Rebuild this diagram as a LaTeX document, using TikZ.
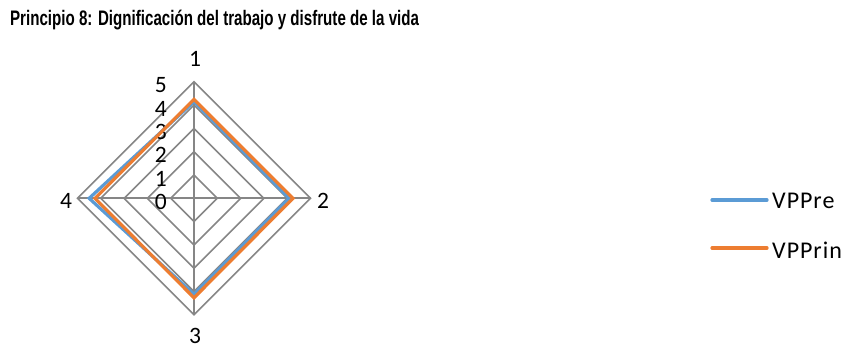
\documentclass[tikz,border=0pt]{standalone}
\usepackage{fontspec}
\setmainfont{Carlito}
\newfontfamily\titlefont{Liberation Sans}
\newfontfamily\legfont[LetterSpace=4]{Carlito}
\usetikzlibrary{positioning,calc}
\definecolor{gridgray}{RGB}{134,134,134}
\definecolor{preblue}{RGB}{91,155,213}
\definecolor{prinorange}{RGB}{237,125,49}

\begin{document}
\begin{tikzpicture}[x=1pt,y=1pt,
    ring/.style={draw=gridgray, line width=1.6pt},
    serie/.style={line width=3.2pt, line join=miter},
    lbl/.style={font=\fontsize{23.5}{23.5}\selectfont, inner sep=0pt},
    leg/.style={font=\legfont\fontsize{24}{24}\selectfont, inner sep=0pt, anchor=west}]
    \useasboundingbox (0,0) rectangle (846,347);

    % Title
    \node[anchor=west, inner sep=0pt, xscale=0.72,
          font=\titlefont\bfseries\fontsize{21}{21}\selectfont] (title) at (10,327)
          {Principio 8: Dignificación del trabajo y disfrute de la vida};

    % Centre and axes
    \coordinate (o) at (194,148.7);
    \coordinate (a1) at ($(o)+(90:116.5)$);
    \coordinate (a2) at ($(o)+(0:116.5)$);
    \coordinate (a3) at ($(o)+(270:116.5)$);
    \coordinate (a4) at ($(o)+(180:116.5)$);

    % Rings
    \foreach \k in {1,...,5}{
        \pgfmathsetmacro{\rr}{23.3*\k}
        \draw[ring] ($(o)+(90:\rr)$) -- ($(o)+(0:\rr)$) -- ($(o)+(270:\rr)$) -- ($(o)+(180:\rr)$) -- cycle;
    }
    \draw[ring] (o) -- (a1);
    \draw[ring] (o) -- (a2);
    \draw[ring] (o) -- (a3);
    \draw[ring] (o) -- (a4);

    % Scale
    \foreach \k in {0,...,5}{
        \node[lbl, anchor=east] (t\k) at ($(o)+(-27,23.3*\k-3.5)$) {\k};
    }

    % Axis labels
    \node[lbl] (l1) at ($(o)+(1,139)$) {1};
    \node[lbl] (l2) at ($(o)+(129,-2.5)$) {2};
    \node[lbl] (l3) at ($(o)+(1,-137.5)$) {3};
    \node[lbl] (l4) at ($(o)+(-128,-2.5)$) {4};

    % VPPre
    \coordinate (p1) at ($(o)+(90:23.3*4.15)$);
    \coordinate (p2) at ($(o)+(0:23.3*4.08)$);
    \coordinate (p3) at ($(o)+(270:23.3*4.12)$);
    \coordinate (p4) at ($(o)+(180:23.3*4.5)$);
    \draw[serie, preblue] (p1) -- (p2) -- (p3) -- (p4) -- cycle;

    % VPPrin
    \coordinate (q1) at ($(o)+(90:23.3*4.25)$);
    \coordinate (q2) at ($(o)+(0:23.3*4.25)$);
    \coordinate (q3) at ($(o)+(270:23.3*4.27)$);
    \coordinate (q4) at ($(o)+(180:23.3*4.25)$);
    \draw[serie, prinorange] (q1) -- (q2) -- (q3) -- (q4) -- cycle;

    % Legend
    \coordinate (b0) at (712,147);
    \coordinate (b1) at (767,147);
    \draw[serie, preblue, line cap=round] (b0) -- (b1);
    \node[leg] (vppre) at (772,146) {VPPre};
    \coordinate (c0) at (712,99);
    \coordinate (c1) at (767,99);
    \draw[serie, prinorange, line cap=round] (c0) -- (c1);
    \node[leg] (vpprin) at (772,97) {VPPrin};
\end{tikzpicture}
\end{document}
